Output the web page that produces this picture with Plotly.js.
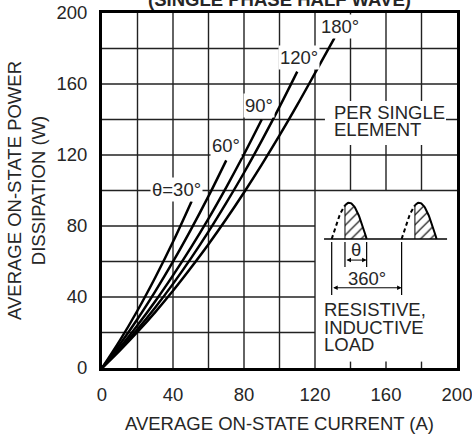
<!DOCTYPE html>
<html><head><meta charset="utf-8">
<script src="https://cdn.plot.ly/plotly-3.0.1.min.js"></script>
<style>html,body{margin:0;padding:0;background:#fff}#chart{width:472px;height:434px}</style>
</head><body><div id="chart"></div>
<script>
// ---- data ----
const current30 = [0, 10, 20, 30, 40, 50.5];
const power30   = [0, 15.4, 32.4, 51.0, 71.1, 94];
const current60 = [0, 10, 20, 30, 40, 50, 60, 70];
const power60   = [0, 13.2, 27.6, 43.2, 59.9, 77.8, 96.8, 117];
const current90 = [0, 10, 20, 30, 40, 50, 60, 70, 80, 90];
const power90   = [0, 11.5, 24.1, 37.6, 52.2, 67.7, 84.2, 101.8, 120.4, 140];
const current120 = [0, 10, 20, 30, 40, 50, 60, 70, 80, 90, 100, 110];
const power120   = [0, 10.4, 21.8, 34.1, 47.4, 61.6, 76.8, 93.0, 110.0, 128.1, 147.1, 167];
const current180 = [0, 10, 20, 30, 40, 50, 60, 70, 80, 90, 100, 110, 120, 131];
const power180   = [0, 9.8, 20.3, 31.5, 43.5, 56.3, 69.7, 83.9, 98.9, 114.6, 131.0, 148.2, 166.1, 186];
const curveLabels = ['θ=30°', '60°', '90°', '120°', '180°'];
const tickValues = [0, 40, 80, 120, 160, 200];
const tickLabels = ['0', '40', '80', '120', '160', '200'];
const gridValues = [20, 40, 60, 80, 100, 120, 140, 160, 180];

// ---- styling / layout config ----
const FONT = 'Liberation Sans, Arial, Helvetica, sans-serif';
const INK = '#262626';
const FS = 18.5;
const labelPos = [[41.7, 100.6], [70.1, 125.4], [88.5, 147.9], [111, 174.9], [134.1, 192.4]];

const series = [[current30, power30], [current60, power60], [current90, power90], [current120, power120], [current180, power180]];
const traces = series.map(s => ({
  x: s[0], y: s[1], type: 'scatter', mode: 'lines',
  line: {color: '#000', width: 2.5, shape: 'spline'},
  hoverinfo: 'skip', showlegend: false
}));

// ---- inset waveform illustration ----
const BASE = 72.7, HW = 19.7, HH = 20.4, FRAC = 0.38;
const humpStarts = [129.4, 168.8];
function humpPts(x0, t0, t1, n) {
  const xs = [], ys = [];
  for (let i = 0; i <= n; i++) {
    const t = t0 + (t1 - t0) * i / n;
    xs.push(x0 + t * HW); ys.push(BASE + HH * Math.sin(Math.PI * t));
  }
  return {xs, ys};
}
humpStarts.forEach(x0 => {
  const d = humpPts(x0, 0, FRAC, 12);
  const s = humpPts(x0, FRAC, 1, 30);
  const hx = x0 + FRAC * HW;
  traces.push({x: s.xs.concat([x0 + HW, hx]), y: s.ys.concat([BASE, BASE]), type: 'scatter', mode: 'lines',
    fill: 'toself', fillcolor: 'rgba(0,0,0,0)',
    fillpattern: {shape: '/', size: 7, solidity: 0.18, fgcolor: '#222', bgcolor: 'rgba(255,255,255,0)'},
    line: {width: 0}, hoverinfo: 'skip', showlegend: false});
  traces.push({x: d.xs, y: d.ys, type: 'scatter', mode: 'lines', line: {color: '#000', width: 2, dash: '4px,3px'}, hoverinfo: 'skip', showlegend: false});
  traces.push({x: s.xs, y: s.ys, type: 'scatter', mode: 'lines', line: {color: '#000', width: 2}, hoverinfo: 'skip', showlegend: false});
  traces.push({x: [hx, hx], y: [BASE, s.ys[0]], type: 'scatter', mode: 'lines', line: {color: '#000', width: 1}, hoverinfo: 'skip', showlegend: false});
});

// ---- shapes: grid, background patches, inset lines ----
const shapes = [];
const gl = {color: '#222', width: 1.4};
gridValues.forEach(v => {
  if (v <= 120) shapes.push({type: 'line', xref: 'x', yref: 'y', x0: v, x1: v, y0: 0, y1: 200, line: gl, layer: 'below'});
  else {
    shapes.push({type: 'line', xref: 'x', yref: 'y', x0: v, x1: v, y0: 100, y1: 200, line: gl, layer: 'below'});
    shapes.push({type: 'line', xref: 'x', yref: 'y', x0: v, x1: v, y0: 0, y1: 3.6, line: gl, layer: 'below'});
  }
  if (v < 100) shapes.push({type: 'line', xref: 'x', yref: 'y', x0: 0, x1: 120, y0: v, y1: v, line: gl, layer: 'below'});
  else shapes.push({type: 'line', xref: 'x', yref: 'y', x0: 0, x1: 200, y0: v, y1: v, line: gl, layer: 'below'});
});
shapes.push({type: 'rect', xref: 'x', yref: 'y', x0: 125.6, x1: 193.8, y0: 125.6, y1: 150.4, fillcolor: '#fff', line: {width: 0}, layer: 'below'});
const thin = {color: '#000', width: 1.2};
shapes.push({type: 'line', xref: 'x', yref: 'y', x0: 125.1, x1: 194.4, y0: BASE, y1: BASE, line: {color: '#000', width: 1.5}});
const hx0 = humpStarts[0] + FRAC * HW, hx1 = humpStarts[0] + HW;
[[hx0, 56.9], [hx1, 56.9], [humpStarts[0], 41.1], [humpStarts[1], 41.1]].forEach(p => {
  shapes.push({type: 'line', xref: 'x', yref: 'y', x0: p[0], x1: p[0], y0: 71, y1: p[1], line: thin});
});

// ---- annotations ----
const ann = [];
curveLabels.forEach((t, i) => ann.push({x: labelPos[i][0], y: labelPos[i][1], xref: 'x', yref: 'y', text: t, showarrow: false,
  bgcolor: '#fff', borderpad: 1, font: {family: FONT, size: FS, color: INK}, xanchor: 'center', yanchor: 'middle'}));
const leftText = (t, x, y) => ann.push({x, y, xref: 'x', yref: 'y', text: t, showarrow: false, xanchor: 'left', yanchor: 'middle',
  font: {family: FONT, size: FS, color: INK}});
leftText('PER SINGLE', 129.3, 143.7);
leftText('ELEMENT', 129.3, 134.1);
leftText('RESISTIVE,', 124.2, 32.7);
leftText('INDUCTIVE', 124.2, 22.8);
leftText('LOAD', 124.2, 13.2);
ann.push({x: 143, y: 66.5, xref: 'x', yref: 'y', text: 'θ', showarrow: false, font: {family: FONT, size: FS, color: INK}});
ann.push({x: 149.4, y: 50.7, xref: 'x', yref: 'y', text: '360°', showarrow: false, font: {family: FONT, size: FS, color: INK}});
const arrow = (xa, xb, y) => ann.push({x: xb, y, ax: xa, ay: y, xref: 'x', yref: 'y', axref: 'x', ayref: 'y', text: '',
  showarrow: true, arrowhead: 2, startarrowhead: 2, arrowside: 'end+start', arrowsize: 0.9, arrowwidth: 1, arrowcolor: '#000', standoff: 0, startstandoff: 0});
arrow(hx0, hx1, 60.8);
arrow(humpStarts[0], humpStarts[1], 45.2);

const axisCommon = {
  range: [0, 200], showgrid: false, zeroline: false, showline: true, mirror: true, linewidth: 3, linecolor: '#000',
  tickmode: 'array', tickvals: tickValues, ticktext: tickLabels, ticks: '', ticklen: 0,
  tickfont: {family: FONT, size: FS, color: INK}, fixedrange: true, automargin: false, ticklabeloverflow: 'allow'
};

const layout = {
  width: 472, height: 434,
  margin: {l: 102, r: 15, t: 13, b: 66},
  paper_bgcolor: '#fff', plot_bgcolor: '#fff',
  title: {text: '<b>(SINGLE PHASE HALF WAVE)</b>', font: {family: FONT, size: FS, color: INK},
    x: 0.5, xref: 'paper', xanchor: 'center', y: 1, yref: 'container', yanchor: 'middle'},
  xaxis: Object.assign({}, axisCommon, {ticklabelstandoff: 8,
    title: {text: 'AVERAGE ON-STATE CURRENT (A)', font: {family: FONT, size: FS, color: INK}, standoff: 20}}),
  yaxis: Object.assign({}, axisCommon, {ticklabelstandoff: 8,
    title: {text: 'AVERAGE ON-STATE POWER<br>DISSIPATION (W)', font: {family: FONT, size: FS, color: INK}, standoff: 6}}),
  shapes, annotations: ann, showlegend: false
};

Plotly.newPlot('chart', traces, layout, {displayModeBar: false, staticPlot: true});
</script></body></html>
